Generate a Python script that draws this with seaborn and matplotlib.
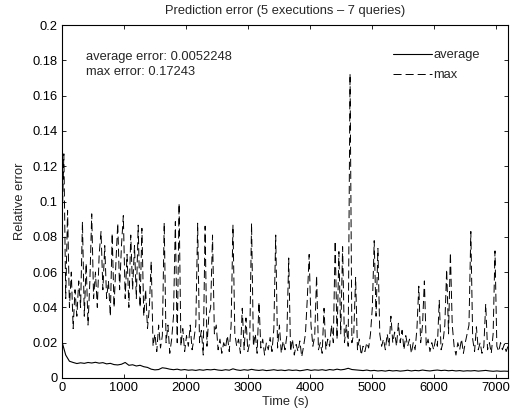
import numpy as np
import pandas as pd
import matplotlib
matplotlib.use("Agg")
import matplotlib.pyplot as plt
import seaborn as sns

title = "Prediction error (5 executions \u2013 7 queries)"
xlabel = "Time (s)"
ylabel = "Relative error"
series_names = ["average", "max"]
note_lines = ["average error: 0.0052248", "max error: 0.17243"]
xticks = [0, 1000, 2000, 3000, 4000, 5000, 6000, 7000]
yticks = [0, 0.02, 0.04, 0.06, 0.08, 0.1, 0.12, 0.14, 0.16, 0.18, 0.2]
ytick_labels = ["0", "0.02", "0.04", "0.06", "0.08", "0.1", "0.12", "0.14", "0.16", "0.18", "0.2"]

max_step = 30  # seconds between samples of the max series
max_err = [
    0.085, 0.127, 0.045, 0.095, 0.040, 0.060, 0.028, 0.050, 0.035, 0.055,
    0.040, 0.0886, 0.035, 0.065, 0.030, 0.055, 0.093, 0.045, 0.060, 0.040,
    0.070, 0.083, 0.050, 0.075, 0.045, 0.055, 0.035, 0.082, 0.040, 0.065,
    0.0877, 0.050, 0.075, 0.092, 0.045, 0.070, 0.040, 0.081, 0.050, 0.075,
    0.045, 0.0866, 0.040, 0.0848, 0.035, 0.050, 0.028, 0.040, 0.066, 0.018,
    0.025, 0.015, 0.030, 0.017, 0.024, 0.088, 0.020, 0.030, 0.014, 0.022,
    0.035, 0.0886, 0.020, 0.099, 0.018, 0.028, 0.015, 0.024, 0.018, 0.030,
    0.016, 0.022, 0.030, 0.0877, 0.020, 0.027, 0.013, 0.086, 0.018, 0.035,
    0.040, 0.081, 0.025, 0.030, 0.016, 0.022, 0.014, 0.020, 0.017, 0.024,
    0.015, 0.030, 0.0866, 0.025, 0.018, 0.022, 0.014, 0.0395, 0.016, 0.034,
    0.015, 0.020, 0.0877, 0.018, 0.025, 0.014, 0.043, 0.017, 0.022, 0.013,
    0.020, 0.016, 0.023, 0.015, 0.028, 0.081, 0.017, 0.030, 0.014, 0.021,
    0.016, 0.024, 0.068, 0.015, 0.022, 0.013, 0.019, 0.015, 0.021, 0.012,
    0.018, 0.025, 0.045, 0.070, 0.030, 0.018, 0.024, 0.058, 0.016, 0.020,
    0.014, 0.0395, 0.016, 0.022, 0.018, 0.030, 0.020, 0.0776, 0.022, 0.0716,
    0.025, 0.0744, 0.020, 0.030, 0.018, 0.17243, 0.020, 0.025, 0.057, 0.016,
    0.022, 0.013, 0.018, 0.015, 0.020, 0.017, 0.025, 0.040, 0.0778, 0.035,
    0.0734, 0.025, 0.018, 0.022, 0.016, 0.025, 0.018, 0.035, 0.020, 0.026,
    0.018, 0.031, 0.020, 0.027, 0.016, 0.024, 0.018, 0.022, 0.014, 0.020,
    0.016, 0.028, 0.052, 0.020, 0.030, 0.055, 0.018, 0.022, 0.015, 0.020,
    0.016, 0.022, 0.018, 0.044, 0.016, 0.020, 0.030, 0.0615, 0.025, 0.071,
    0.030, 0.018, 0.013, 0.020, 0.016, 0.022, 0.014, 0.020, 0.025, 0.030,
    0.083, 0.022, 0.015, 0.029, 0.016, 0.020, 0.014, 0.018, 0.042, 0.016,
    0.020, 0.014, 0.025, 0.072, 0.018, 0.015, 0.020, 0.016, 0.019, 0.015,
    0.018,
]

avg_step = 60  # seconds between samples of the average series
avg_err = [
    0.0205, 0.0130, 0.0095, 0.0088, 0.0082, 0.0086, 0.0083, 0.0088, 0.0085, 0.0089,
    0.0084, 0.0087, 0.0080, 0.0083, 0.0076, 0.0074, 0.0078, 0.0088, 0.0072, 0.0075,
    0.0068, 0.0072, 0.0064, 0.0060, 0.0050, 0.0046, 0.0048, 0.0058, 0.0055, 0.0050,
    0.0047, 0.0050, 0.0045, 0.0048, 0.0044, 0.0046, 0.0043, 0.0047, 0.0044, 0.0048,
    0.0046, 0.0049, 0.0045, 0.0043, 0.0047, 0.0044, 0.0052, 0.0046, 0.0043, 0.0047,
    0.0044, 0.0049, 0.0045, 0.0043, 0.0046, 0.0042, 0.0044, 0.0047, 0.0043, 0.0045,
    0.0042, 0.0046, 0.0043, 0.0045, 0.0041, 0.0044, 0.0048, 0.0043, 0.0046, 0.0044,
    0.0047, 0.0043, 0.0048, 0.0045, 0.0050, 0.0046, 0.0049, 0.0055, 0.0048, 0.0046,
    0.0044, 0.0042, 0.0045, 0.0041, 0.0043, 0.0040, 0.0042, 0.0039, 0.0043, 0.0040,
    0.0042, 0.0039, 0.0041, 0.0044, 0.0040, 0.0043, 0.0041, 0.0045, 0.0042, 0.0040,
    0.0043, 0.0045, 0.0042, 0.0044, 0.0041, 0.0043, 0.0040, 0.0042, 0.0039, 0.0041,
    0.0040, 0.0042, 0.0039, 0.0041, 0.0043, 0.0040, 0.0038, 0.0040, 0.0038, 0.0039,
    0.0038,
]

t_max = np.arange(len(max_err)) * max_step
t_avg = np.arange(len(avg_err)) * avg_step
df_avg = pd.DataFrame({"t": t_avg, "v": avg_err})
df_max = pd.DataFrame({"t": t_max, "v": max_err})

sns.set_theme(style="white")
plt.rcParams["font.family"] = ["Liberation Sans", "DejaVu Sans"]
plt.rcParams["lines.scale_dashes"] = False
fs = 9.3

fig = plt.figure(figsize=(5.15, 4.13), dpi=100)
ax = fig.add_axes([62 / 515, 35 / 413, 446 / 515, 353 / 413])

sns.lineplot(data=df_avg, x="t", y="v", ax=ax, color="black", linewidth=0.8,
             label=series_names[0])
sns.lineplot(data=df_max, x="t", y="v", ax=ax, color="black", linewidth=0.7,
             label=series_names[1])
ax.lines[1].set_linestyle((0, (5.8, 2.9)))

ax.set_xlim(0, 7200)
ax.set_ylim(0, 0.2)
ax.set_xticks(xticks)
ax.set_xticklabels([str(x) for x in xticks], fontsize=fs)
ax.set_yticks(yticks)
ax.set_yticklabels(ytick_labels, fontsize=fs)
ax.tick_params(direction="in", length=3, width=0.6, top=True, right=True,
               bottom=True, left=True, colors="black", pad=3)
for s in ax.spines.values():
    s.set_color("black")
    s.set_linewidth(0.8)

ax.set_title(title, fontsize=fs, pad=8)
ax.set_xlabel(xlabel, fontsize=fs, labelpad=1.5)
ax.set_ylabel(ylabel, fontsize=fs, labelpad=5)

ax.text(390, 0.182, note_lines[0], fontsize=fs, va="center", ha="left")
ax.text(390, 0.1735, note_lines[1], fontsize=fs, va="center", ha="left")

leg = ax.legend(loc="upper left", bbox_to_anchor=(0.742, 0.932), frameon=False,
                fontsize=fs, handlelength=3.0, handletextpad=0.15,
                labelspacing=0.65, borderpad=0, borderaxespad=0)

fig.savefig("out.png", dpi=100)
